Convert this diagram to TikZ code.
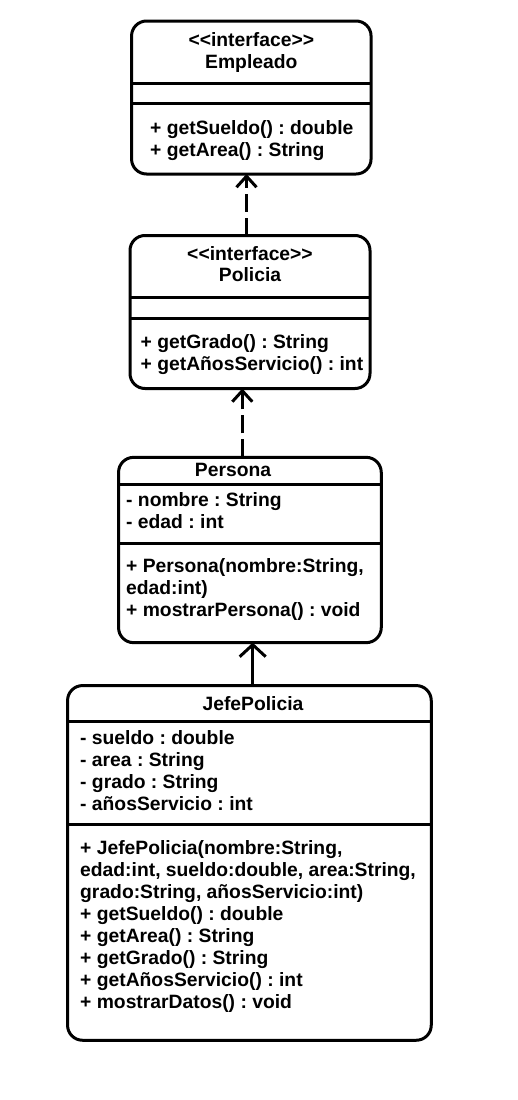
\documentclass[tikz,border=0pt]{standalone}
\usepackage{fontspec}
\setmainfont{Liberation Sans}[Ligatures=TeXOff]
\frenchspacing
\usepackage{tikz}
\usetikzlibrary{calc,arrows.meta,positioning}

\begin{document}
\begin{tikzpicture}[x=1pt,y=-1pt,
    font=\fontsize{19.3}{22}\selectfont\bfseries,
    classbox/.style={draw,line width=3pt,rounded corners=15pt,inner sep=0pt,outer sep=0pt},
    sepline/.style={line width=3pt},
    member/.style={anchor=base west,inner sep=0pt},
    cname/.style={anchor=base,inner sep=0pt},
    realizes/.style={line width=3pt,dash pattern=on 18pt off 6pt,-{Straight Barb[length=11pt,width=20pt]}},
    extends/.style={line width=3pt,-{Straight Barb[length=12pt,width=26pt]}}]

    \useasboundingbox (0,0) rectangle (518,1100);

    % the boxes
    \node[classbox,minimum width=239.5pt,minimum height=153pt]   (empleado) at (251.3,97.5) {};
    \node[classbox,minimum width=240pt,minimum height=153pt]     (policia)  at (250,312) {};
    \node[classbox,minimum width=262.7pt,minimum height=185.3pt] (persona)  at (249.9,550) {};
    \node[classbox,minimum width=363.7pt,minimum height=354.7pt] (jefe)     at (249.4,862.9) {};

    % compartments
    \draw[sepline] ($(empleado.north west)+(0,62)$) -- ($(empleado.north east)+(0,62)$);
    \draw[sepline] ($(empleado.north west)+(0,82)$) -- ($(empleado.north east)+(0,82)$);
    \draw[sepline] ($(policia.north west)+(0,61.5)$) -- ($(policia.north east)+(0,61.5)$);
    \draw[sepline] ($(policia.north west)+(0,82.5)$) -- ($(policia.north east)+(0,82.5)$);
    \draw[sepline] ($(persona.north west)+(0,26.8)$) -- ($(persona.north east)+(0,26.8)$);
    \draw[sepline] ($(persona.north west)+(0,85.8)$) -- ($(persona.north east)+(0,85.8)$);
    \draw[sepline] ($(jefe.north west)+(0,36.2)$) -- ($(jefe.north east)+(0,36.2)$);
    \draw[sepline] ($(jefe.north west)+(0,138.8)$) -- ($(jefe.north east)+(0,138.8)$);

    % Empleado
    \node[cname] (empleadoStereo) at (251.3,46) {<<interface>>};
    \node[cname] (empleadoName)   at (251.3,68) {Empleado};
    \node[member] (empleadoM1) at (150,134) {+ getSueldo() : double};
    \node[member] (empleadoM2) at (150,156) {+ getArea() : String};

    % Policia
    \node[cname] (policiaStereo) at (250,260.7) {<<interface>>};
    \node[cname] (policiaName)   at (250,281.7) {Policia};
    \node[member] (policiaM1) at (140.5,348.3) {+ getGrado() : String};
    \node[member] (policiaM2) at (140.5,370.5) {+ getAñosServicio() : int};

    % Persona
    \node[cname] (personaName) at (233,476.7) {Persona};
    \node[member] (personaA1) at (126,506) {- nombre : String};
    \node[member] (personaA2) at (126,528) {- edad : int};
    \node[member] (personaM1) at (126,572.3) {+ Persona(nombre:String,};
    \node[member] (personaM2) at (126,594.3) {edad:int)};
    \node[member] (personaM3) at (126,616.3) {+ mostrarPersona() : void};

    % JefePolicia
    \node[cname] (jefeName) at (253,710.7) {JefePolicia};
    \node[member] (jefeA1) at (80,744) {- sueldo : double};
    \node[member] (jefeA2) at (80,766) {- area : String};
    \node[member] (jefeA3) at (80,788) {- grado : String};
    \node[member] (jefeA4) at (80,810) {- añosServicio : int};
    \node[member] (jefeM1) at (80,854) {+ JefePolicia(nombre:String,};
    \node[member] (jefeM2) at (80,876) {edad:int, sueldo:double, area:String,};
    \node[member] (jefeM3) at (80,898) {grado:String, añosServicio:int)};
    \node[member] (jefeM4) at (80,920) {+ getSueldo() : double};
    \node[member] (jefeM5) at (80,942) {+ getArea() : String};
    \node[member] (jefeM6) at (80,964) {+ getGrado() : String};
    \node[member] (jefeM7) at (80,986) {+ getAñosServicio() : int};
    \node[member] (jefeM8) at (80,1008) {+ mostrarDatos() : void};

    % relations
    \draw[realizes] ($(policia.north)+(-3.5,0)$) coordinate (r1) -- (r1 |- empleado.south);
    \draw[realizes] ($(persona.north)+(-7.6,0)$) coordinate (r2) -- (r2 |- policia.south);
    \draw[extends]  ($(jefe.north)+(3.3,0)$) coordinate (g1) -- (g1 |- persona.south);
\end{tikzpicture}
\end{document}
